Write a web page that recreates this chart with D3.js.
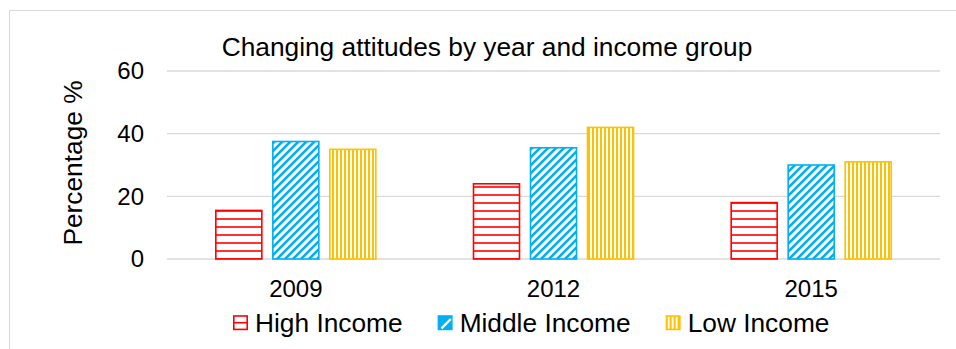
<!DOCTYPE html>
<html>
<head>
<meta charset="utf-8">
<script src="https://cdn.jsdelivr.net/npm/d3@7"></script>
<style>
  html, body { margin: 0; padding: 0; background: #fff; }
  svg { display: block; }
  text { font-family: "Liberation Sans", Arial, sans-serif; fill: #000; }
</style>
</head>
<body>
<svg id="chart" width="956" height="349"></svg>
<script>
// Survey results: share of respondents (%) by year and income group
const years = ["2009", "2012", "2015"];
const groups = ["High Income", "Middle Income", "Low Income"];
const highIncome = [15.5, 24, 18];
const middleIncome = [37.5, 35.5, 30];
const lowIncome = [35, 42, 31];
const yTicks = [0, 20, 40, 60];
const titleText = "Changing attitudes by year and income group";
const yTitle = "Percentage %";

const seriesValues = [highIncome, middleIncome, lowIncome];
const colors = ["#FF0000", "#00B0F0", "#FFC000"];
const patternIds = ["pat-horiz", "pat-diag", "pat-vert"];

const W = 956, H = 349;
const plot = { left: 167, right: 940, top: 71, bottom: 259 };
const TICK_FONT = 24;
const LABEL_FONT = 26.3;

const svg = d3.select("#chart");

const y = d3.scaleLinear().domain([0, 60]).range([plot.bottom, plot.top]);
const x0 = d3.scaleBand().domain(years).range([plot.left, plot.right]).padding(0);
const bw = x0.bandwidth();
const x1 = d3.scaleBand().domain(groups)
  .range([bw / 2 - 80, bw / 2 + 80])
  .paddingInner(0.193).paddingOuter(0);

// fill patterns
const defs = svg.append("defs");
// horizontal lines, anchored to the zero line
const pH = defs.append("pattern").attr("id", patternIds[0])
  .attr("patternUnits", "userSpaceOnUse").attr("width", 8).attr("height", 8)
  .attr("x", 0).attr("y", y(0) % 8);
pH.append("rect").attr("width", 8).attr("height", 8).attr("fill", "#fff");
pH.append("rect").attr("x", 0).attr("y", 7.2).attr("width", 8).attr("height", 1.6).attr("fill", colors[0]);
pH.append("rect").attr("x", 0).attr("y", -0.8).attr("width", 8).attr("height", 1.6).attr("fill", colors[0]);

// wide upward diagonal
const pD = defs.append("pattern").attr("id", patternIds[1])
  .attr("patternUnits", "userSpaceOnUse").attr("width", 8).attr("height", 8);
pD.append("rect").attr("width", 8).attr("height", 8).attr("fill", "#fff");
pD.append("path").attr("d", "M-2,2 L2,-2 M0,8 L8,0 M6,10 L10,6")
  .attr("stroke", colors[1]).attr("stroke-width", 2.6).attr("fill", "none");

// vertical lines
const pV = defs.append("pattern").attr("id", patternIds[2])
  .attr("patternUnits", "userSpaceOnUse").attr("width", 4).attr("height", 4);
pV.append("rect").attr("width", 4).attr("height", 4).attr("fill", "#fff");
pV.append("rect").attr("x", 0).attr("y", 0).attr("width", 2).attr("height", 4).attr("fill", colors[2]);

// outer frame of the chart area
svg.append("path")
  .attr("d", `M9.5,${H} L9.5,10.5 L${W},10.5`)
  .attr("fill", "none").attr("stroke", "#d9d9d9").attr("stroke-width", 1);

// gridlines
svg.append("g").selectAll("line").data(yTicks).join("line")
  .attr("x1", plot.left).attr("x2", plot.right)
  .attr("y1", d => y(d)).attr("y2", d => y(d))
  .attr("stroke", "#d9d9d9").attr("stroke-width", 1.3);

// y axis labels
const yAxis = d3.axisLeft(y).tickValues(yTicks).tickSize(0).tickPadding(0);
const gy = svg.append("g").attr("transform", `translate(${plot.left - 23},0)`).call(yAxis);
gy.select(".domain").remove();
gy.selectAll("text").attr("font-size", TICK_FONT).attr("fill", "#000")
  .style("font-family", '"Liberation Sans", Arial, sans-serif');

// x axis labels
const xAxis = d3.axisBottom(x0).tickSize(0).tickPadding(0);
const gx = svg.append("g").attr("transform", `translate(0,${plot.bottom + 21})`).call(xAxis);
gx.select(".domain").remove();
gx.selectAll("text").attr("font-size", TICK_FONT).attr("fill", "#000")
  .style("font-family", '"Liberation Sans", Arial, sans-serif');

// bars
const rows = years.map((yr, i) => ({ year: yr, vals: groups.map((g, j) => ({ g, j, v: seriesValues[j][i] })) }));
const gBars = svg.append("g");
rows.forEach(r => {
  gBars.selectAll(null).data(r.vals).join("rect")
    .attr("x", d => x0(r.year) + x1(d.g))
    .attr("y", d => y(d.v))
    .attr("width", x1.bandwidth())
    .attr("height", d => y(0) - y(d.v))
    .attr("fill", d => `url(#${patternIds[d.j]})`)
    .attr("stroke", d => colors[d.j])
    .attr("stroke-width", 1.6);
});

// title
svg.append("text").attr("x", 487).attr("y", 56).attr("text-anchor", "middle")
  .attr("font-size", LABEL_FONT).text(titleText);

// y axis title
svg.append("text").attr("transform", `translate(82,${(plot.top + plot.bottom) / 2 - 2}) rotate(-90)`)
  .attr("text-anchor", "middle").attr("font-size", LABEL_FONT).text(yTitle);

// legend swatches: small versions of each hatch
function drawSwatch(g, j) {
  const s = 13.4, x = 0.8, yy = -7;
  if (j === 0) {
    g.append("rect").attr("x", x).attr("y", yy).attr("width", s).attr("height", s)
      .attr("fill", "#fff").attr("stroke", colors[0]).attr("stroke-width", 1.6);
    g.append("line").attr("x1", x).attr("x2", x + s).attr("y1", yy + s / 2).attr("y2", yy + s / 2)
      .attr("stroke", colors[0]).attr("stroke-width", 1.6);
  } else if (j === 1) {
    g.append("rect").attr("x", x).attr("y", yy).attr("width", s).attr("height", s)
      .attr("fill", colors[1]).attr("stroke", colors[1]).attr("stroke-width", 1.6);
    g.append("line").attr("x1", x + 3).attr("y1", yy + s - 1).attr("x2", x + s - 1).attr("y2", yy + 3)
      .attr("stroke", "#fff").attr("stroke-width", 2.4);
  } else {
    g.append("rect").attr("x", x).attr("y", yy).attr("width", s).attr("height", s)
      .attr("fill", `url(#${patternIds[2]})`).attr("stroke", colors[2]).attr("stroke-width", 1.6);
  }
}

// legend
const legend = svg.append("g").attr("transform", "translate(233,323)");
let lx = 0;
groups.forEach((g, j) => {
  const item = legend.append("g").attr("transform", `translate(${lx},0)`);
  drawSwatch(item, j);
  const t = item.append("text").attr("x", 22).attr("y", 0).attr("dy", "0.35em")
    .attr("font-size", LABEL_FONT).text(g);
  lx += 22 + t.node().getComputedTextLength() + 35;
});
</script>
</body>
</html>
